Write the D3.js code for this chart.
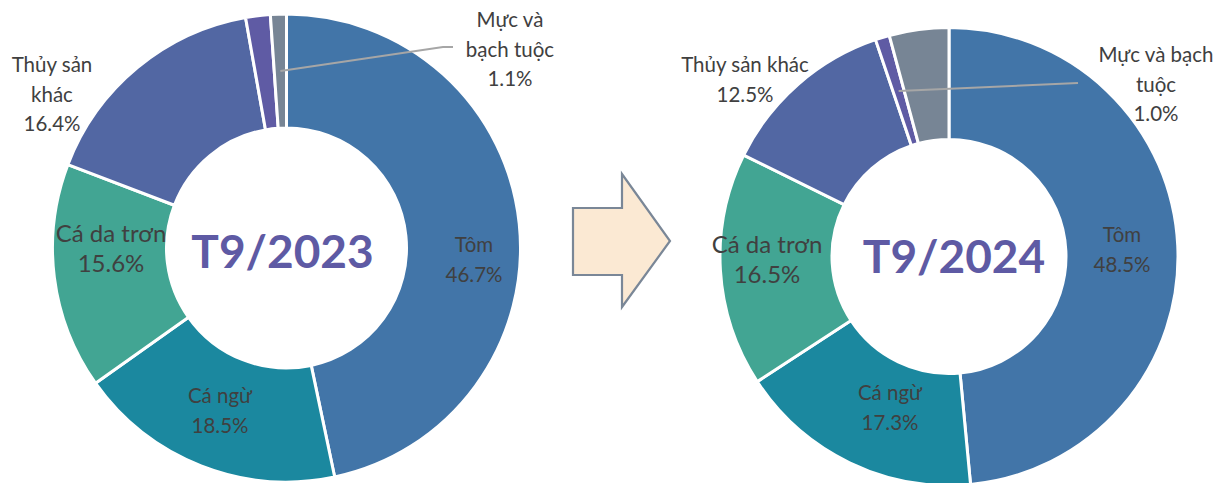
<!DOCTYPE html>
<html>
<head>
<meta charset="utf-8">
<script src="https://cdn.jsdelivr.net/npm/d3@7"></script>
<style>
  html, body { margin: 0; padding: 0; background: #ffffff; }
  svg { display: block; }
</style>
</head>
<body>
<svg id="chart" width="1221" height="483"></svg>
<script>
// ---- Data ----
const titles = ["T9/2023", "T9/2024"];
const categories2023 = ["Tôm", "Cá ngừ", "Cá da trơn", "Thủy sản khác", "Khác", "Mực và bạch tuộc"];
const values2023 = [46.7, 18.5, 15.6, 16.4, 1.7, 1.1];
const labelLines2023 = [["Tôm"], ["Cá ngừ"], ["Cá da trơn"], ["Thủy sản", "khác"], [], ["Mực và", "bạch tuộc"]];
const categories2024 = ["Tôm", "Cá ngừ", "Cá da trơn", "Thủy sản khác", "Mực và bạch tuộc", "Khác"];
const values2024 = [48.5, 17.3, 16.5, 12.5, 1.0, 4.2];
const labelLines2024 = [["Tôm"], ["Cá ngừ"], ["Cá da trơn"], ["Thủy sản khác"], ["Mực và bạch", "tuộc"], []];

// ---- Layout / style (separate from data) ----
const sliceColors = ["#4275A8", "#1B889F", "#42A593", "#5267A3", "#5F5BA4", "#778595"];
const charts = [
  {
    title: titles[0], cats: categories2023, vals: values2023, lines: labelLines2023,
    cx: 286.5, cy: 248, R: 234, r: 120, titleDx: -4, titleDy: 20,
    // label anchor (first baseline) relative to centre
    labelPos: [[187.5, 4], [-66.5, 155], [-175.5, -6], [-234.5, -176], null, [223.5, -221]],
    leaderIdx: 5, leaderPts: [[156.5, -201], [166.5, -201]]
  },
  {
    title: titles[1], cats: categories2024, vals: values2024, lines: labelLines2024,
    cx: 949, cy: 256.5, R: 229, r: 117, titleDx: 5, titleDy: 16.5,
    labelPos: [[173, -14.5], [-59, 143.5], [-182, -3.5], [-204, -184.5], [207, -194.5], null],
    leaderIdx: 4, leaderPts: [[129, -173.5]]
  }
];
const lineGap = 29.5;

const svg = d3.select("#chart");

// Arrow between the two donuts
svg.append("path")
  .attr("d", "M573,208 L622,208 L622,174 L670,241 L622,307 L622,275 L573,275 Z")
  .attr("fill", "#FBE9D3")
  .attr("stroke", "#7A8797")
  .attr("stroke-width", 2.2)
  .attr("stroke-linejoin", "miter");

charts.forEach(c => {
  const g = svg.append("g").attr("transform", `translate(${c.cx},${c.cy})`);
  const pie = d3.pie().sort(null).value(d => d)(c.vals);
  const arc = d3.arc().innerRadius(c.r).outerRadius(c.R);

  g.selectAll("path.slice")
    .data(pie)
    .join("path")
    .attr("class", "slice")
    .attr("d", arc)
    .attr("fill", (d, i) => sliceColors[i])
    .attr("stroke", "#ffffff")
    .attr("stroke-width", 3)
    .attr("stroke-linejoin", "round");

  // leader line
  const start = arc.centroid(pie[c.leaderIdx]);
  const pts = [start].concat(c.leaderPts);
  g.append("path")
    .attr("d", d3.line()(pts))
    .attr("fill", "none")
    .attr("stroke", "#A6A6A6")
    .attr("stroke-width", 2);

  // labels
  pie.forEach((d, i) => {
    const lines = c.lines[i];
    const pos = c.labelPos[i];
    if (!pos || !lines.length) return;
    const big = c.cats[i] === "Cá da trơn";
    const t = g.append("text")
      .attr("text-anchor", "middle")
      .attr("font-family", "Lato, 'Open Sans', sans-serif")
      .attr("font-size", big ? 24 : 20.5)
      .attr("fill", "#404040");
    const all = lines.concat([d3.format(".1f")(c.vals[i]) + "%"]);
    all.forEach((s, k) => {
      t.append("tspan")
        .attr("x", pos[0])
        .attr("y", pos[1] + k * lineGap)
        .text(s);
    });
  });

  // centre title
  g.append("text")
    .attr("x", c.titleDx)
    .attr("y", c.titleDy)
    .attr("text-anchor", "middle")
    .attr("font-family", "Lato, 'Open Sans', sans-serif")
    .attr("font-weight", 700)
    .attr("font-size", 46)
    .attr("fill", "#5E5AA4")
    .text(c.title);
});
</script>
</body>
</html>
